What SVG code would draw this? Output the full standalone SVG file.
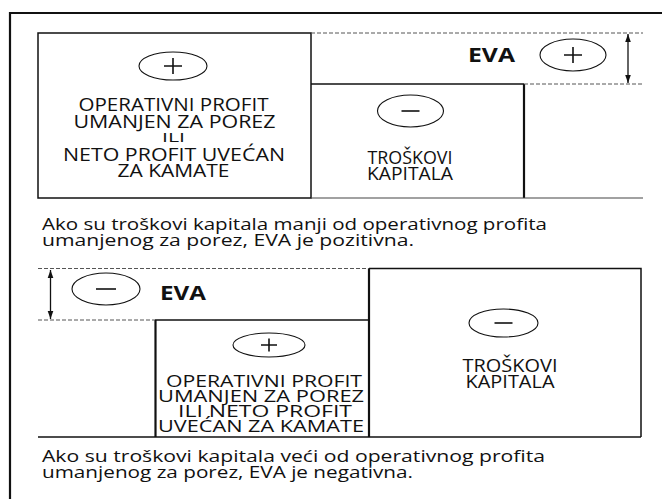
<svg xmlns="http://www.w3.org/2000/svg" width="662" height="499" viewBox="0 0 662 499">
<style>
  .ln { fill: none; stroke: #111; stroke-width: 1.5; }
  .thick { fill: none; stroke: #111; stroke-width: 2.2; }
  .thin { fill: none; stroke: #444; stroke-width: 1.2; }
  .dash { fill: none; stroke: #555; stroke-width: 1; stroke-dasharray: 4 2; }
  .ell { fill: none; stroke: #111; stroke-width: 1.1; }
  .sign { fill: none; stroke: #111; stroke-width: 1.6; }
  .cap { font-family: "Open Sans", "DejaVu Sans", sans-serif; font-size: 18px; fill: #111; text-anchor: middle; }
  .sm { font-size: 16px; }
  .eva { font-family: "Open Sans", "DejaVu Sans", sans-serif; font-size: 19px; font-weight: bold; fill: #111; text-anchor: middle; }
  .body { font-family: "Open Sans", "DejaVu Sans", sans-serif; font-size: 17px; fill: #111; }
  .arrow { fill: none; stroke: #111; stroke-width: 1.3; marker-start: url(#ah); marker-end: url(#ah); }
</style>
<defs>
  <marker id="ah" viewBox="0 0 10 10" refX="10" refY="5" markerWidth="8" markerHeight="8" markerUnits="userSpaceOnUse" orient="auto-start-reverse">
    <path d="M0,1.5 L10,5 L0,8.5 z" fill="#111"/>
  </marker>
</defs>
<rect width="662" height="499" fill="#fff"/>

<g id="frame">
  <path class="thick" d="M10,499 V13 H662"/>
</g>

<!-- Top scenario -->
<g id="top-operativni-profit">
  <rect class="ln" x="38" y="33" width="273" height="165"/>
  <ellipse class="ell" cx="173" cy="66" rx="34" ry="14"/>
  <path class="sign" d="M164,66 H182 M173,58 V74"/>
  <text class="cap" x="173.5" y="110.5" textLength="190" lengthAdjust="spacingAndGlyphs">OPERATIVNI PROFIT</text>
  <text class="cap" x="174.5" y="128" textLength="202" lengthAdjust="spacingAndGlyphs">UMANJEN ZA POREZ</text>
  <text class="cap" x="173.5" y="141.5" style="font-size:12px" textLength="23" lengthAdjust="spacingAndGlyphs">ILI</text>
  <text class="cap" x="174" y="161" textLength="222" lengthAdjust="spacingAndGlyphs">NETO PROFIT UVEĆAN</text>
  <text class="cap" x="173.5" y="177" textLength="112" lengthAdjust="spacingAndGlyphs">ZA KAMATE</text>
</g>

<g id="top-troskovi-kapitala">
  <path class="ln" d="M311,84 H524"/>
  <path class="thick" d="M524,84 V198"/>
  <path class="thin" d="M311,198 H643"/>
  <ellipse class="ell" cx="410.5" cy="111" rx="33" ry="16"/>
  <path class="sign" d="M401.5,111 H419.5"/>
  <text class="cap" x="410" y="164" textLength="85" lengthAdjust="spacingAndGlyphs">TROŠKOVI</text>
  <text class="cap" x="410" y="180" textLength="86" lengthAdjust="spacingAndGlyphs">KAPITALA</text>
</g>

<g id="top-eva">
  <text class="eva" x="491.5" y="61.5" textLength="47" lengthAdjust="spacingAndGlyphs">EVA</text>
  <ellipse class="ell" cx="573" cy="55" rx="33" ry="16"/>
  <path class="sign" d="M564,55 H582 M573,47 V63"/>
</g>

<g id="top-caption">
  <text class="body" x="42" y="230" textLength="505" lengthAdjust="spacingAndGlyphs">Ako su troškovi kapitala manji od operativnog profita</text>
  <text class="body" x="42" y="246" textLength="372" lengthAdjust="spacingAndGlyphs">umanjenog za porez, EVA je pozitivna.</text>
</g>

<!-- Bottom scenario -->
<g id="bottom-eva">
  <ellipse class="ell" cx="106" cy="289" rx="34" ry="16"/>
  <path class="sign" d="M96,289 H116"/>
  <text class="eva" x="183" y="299.5" textLength="46" lengthAdjust="spacingAndGlyphs">EVA</text>
</g>

<g id="bottom-operativni-profit">
  <path class="thick" d="M155.5,437 V320"/>
  <path class="ln" d="M155,320 H369"/>
  <ellipse class="ell" cx="269" cy="345" rx="36" ry="12"/>
  <path class="sign" d="M261,345 H277 M269,338.5 V351.5"/>
  <text class="cap sm" x="264" y="387" textLength="196" lengthAdjust="spacingAndGlyphs">OPERATIVNI PROFIT</text>
  <text class="cap sm" x="261" y="402" textLength="206" lengthAdjust="spacingAndGlyphs">UMANJEN ZA POREZ</text>
  <text class="cap sm" x="265" y="417" textLength="174" lengthAdjust="spacingAndGlyphs">ILI NETO PROFIT</text>
  <text class="cap sm" x="261" y="432" textLength="206" lengthAdjust="spacingAndGlyphs">UVEĆAN ZA KAMATE</text>
</g>

<g id="bottom-troskovi-kapitala">
  <path class="ln" d="M369,268.5 H641 V437"/>
  <path class="thick" d="M369,268.5 V437"/>
  <path class="ln" d="M38,437 H641"/>
  <ellipse class="ell" cx="503.5" cy="323" rx="34.5" ry="14"/>
  <path class="sign" d="M494.5,323 H512.5"/>
  <text class="cap" x="510" y="372" textLength="95" lengthAdjust="spacingAndGlyphs">TROŠKOVI</text>
  <text class="cap" x="510" y="388" textLength="89" lengthAdjust="spacingAndGlyphs">KAPITALA</text>
</g>

<g id="bottom-caption">
  <text class="body" x="42" y="462" textLength="503" lengthAdjust="spacingAndGlyphs">Ako su troškovi kapitala veći od operativnog profita</text>
  <text class="body" x="42" y="478" textLength="371" lengthAdjust="spacingAndGlyphs">umanjenog za porez, EVA je negativna.</text>
</g>

<g id="connectors">
  <path class="dash" d="M311,33 H643"/>
  <path class="dash" d="M524,84 H643"/>
  <path class="dash" d="M38,268.5 H369"/>
  <path class="dash" d="M38,320 H155"/>
  <line class="arrow" x1="628" y1="34" x2="628" y2="83"/>
  <line class="arrow" x1="50.5" y1="270" x2="50.5" y2="319"/>
</g>
</svg>
